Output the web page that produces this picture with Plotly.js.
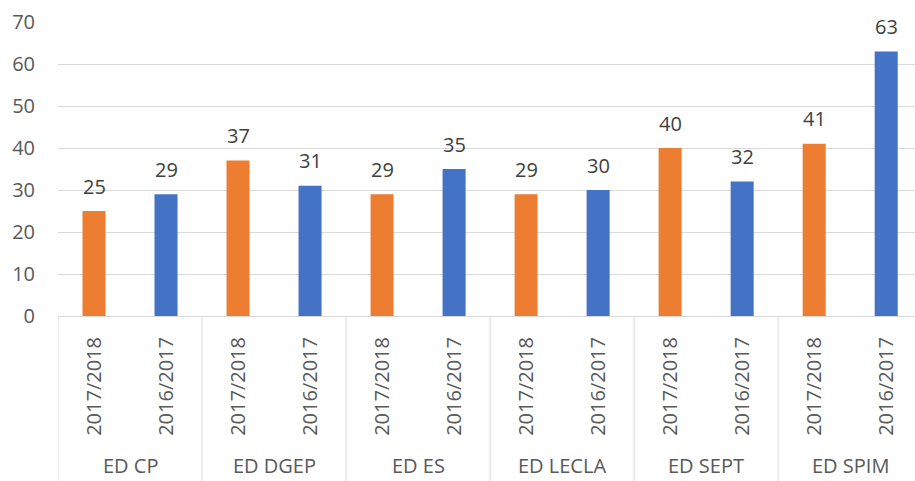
<!DOCTYPE html>
<html>
<head>
<meta charset="utf-8">
<script src="https://cdn.plot.ly/plotly-3.0.1.min.js"></script>
<style>html,body{margin:0;padding:0;background:#fff;}#chart{width:915px;height:481px;}</style>
</head>
<body>
<div id="chart"></div>
<script>
const groupNames = ["ED CP","ED DGEP","ED ES","ED LECLA","ED SEPT","ED SPIM"];
const years = ["2017/2018","2016/2017","2017/2018","2016/2017","2017/2018","2016/2017","2017/2018","2016/2017","2017/2018","2016/2017","2017/2018","2016/2017"];
const values = [25,29,37,31,29,35,29,30,40,32,41,63];

const ORANGE = "#ED7D31", BLUE = "#4472C4";
const GRID = "#D9D9D9", TXT = "#595959";
const colors = years.map(y => y === "2017/2018" ? ORANGE : BLUE);
const idx = values.map((_, i) => i);

const H = 481, MT = 22, MB = 165;
const plotH = H - MT - MB;

const trace = {
  type: "bar",
  x: idx,
  y: values,
  width: 0.32,
  marker: {color: colors, line: {width: 0}},
  hoverinfo: "skip"
};

const annotations = values.map((v, i) => ({
  x: i, y: v, xref: "x", yref: "y",
  text: String(v), showarrow: false,
  yanchor: "middle", yshift: 25,
  font: {family: "Open Sans", size: 20, color: "#404040"}
}));
groupNames.forEach((g, k) => annotations.push({
  x: 2 * k + 0.5, y: -(MB - 1) / plotH, xref: "x", yref: "paper",
  text: g, showarrow: false, yanchor: "bottom", xanchor: "center",
  borderpad: 0,
  font: {family: "Open Sans", size: 20, color: TXT}
}));

const shapes = [];
for (let k = 0; k <= groupNames.length; k++) {
  shapes.push({
    type: "line", xref: "x", yref: "paper",
    x0: 2 * k - 0.5, x1: 2 * k - 0.5, y0: 0, y1: -MB / plotH,
    line: {color: GRID, width: 1}
  });
}

const layout = {
  width: 915, height: H,
  margin: {l: 58, r: 0, t: MT, b: MB},
  paper_bgcolor: "#fff", plot_bgcolor: "#fff",
  showlegend: false,
  font: {family: "Open Sans", size: 20, color: TXT},
  xaxis: {
    range: [-0.5, 11.4],
    tickmode: "array", tickvals: idx, ticktext: years,
    tickangle: -90, ticks: "", ticklabelstandoff: 12,
    showline: true, linecolor: GRID, linewidth: 1,
    showgrid: false, zeroline: false,
    tickfont: {family: "Open Sans", size: 20, color: TXT}
  },
  yaxis: {
    range: [0, 70], dtick: 10,
    showgrid: true, gridcolor: GRID, gridwidth: 1,
    zeroline: false, showline: false,
    ticks: "", ticklabelstandoff: 22,
    tickfont: {family: "Open Sans", size: 20, color: TXT}
  },
  annotations: annotations,
  shapes: shapes
};

Plotly.newPlot("chart", [trace], layout, {displayModeBar: false, staticPlot: true});
</script>
</body>
</html>
